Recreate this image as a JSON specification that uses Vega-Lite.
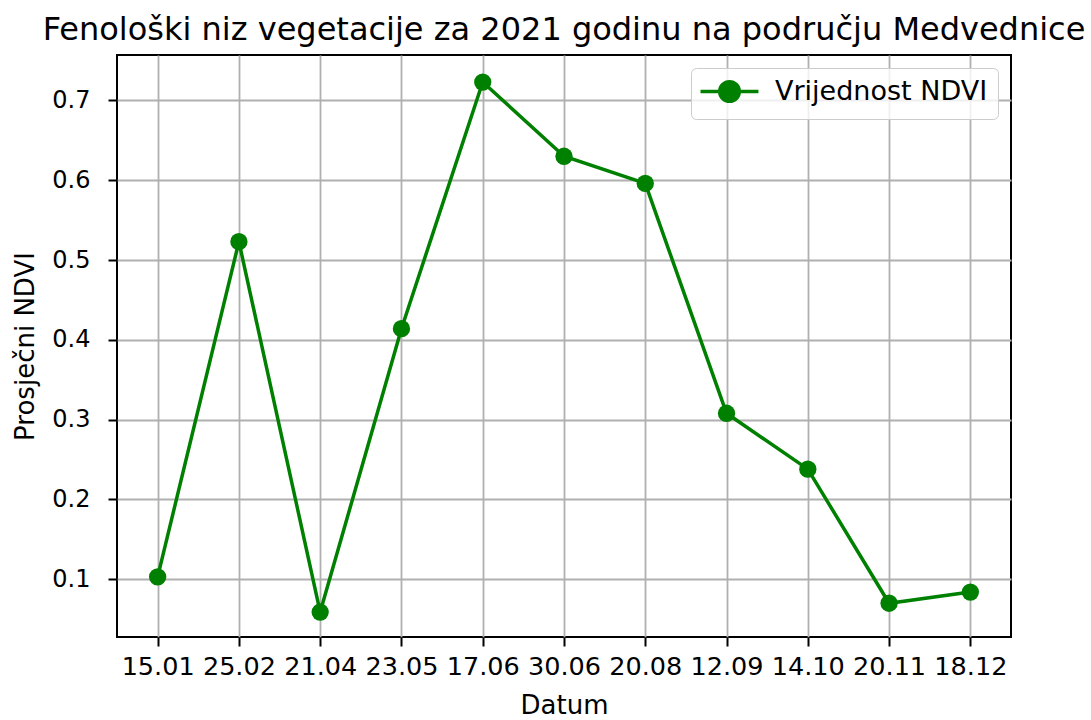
{
  "$schema": "https://vega.github.io/schema/vega-lite/v6.json",
  "width": 894,
  "height": 582,
  "autosize": {"type": "none"},
  "padding": {"left": 117, "top": 55, "right": 80, "bottom": 83},
  "background": "white",
  "title": {
    "text": "Fenološki niz vegetacije za 2021 godinu na području Medvednice",
    "fontSize": 32,
    "font": "DejaVu Sans",
    "fontWeight": "normal",
    "color": "#000000",
    "anchor": "middle",
    "baseline": "alphabetic",
    "offset": -17
  },
  "data": {
    "values": [
      {"datum": "15.01", "ndvi": 0.103},
      {"datum": "25.02", "ndvi": 0.523},
      {"datum": "21.04", "ndvi": 0.059},
      {"datum": "23.05", "ndvi": 0.414},
      {"datum": "17.06", "ndvi": 0.723},
      {"datum": "30.06", "ndvi": 0.630},
      {"datum": "20.08", "ndvi": 0.596},
      {"datum": "12.09", "ndvi": 0.308},
      {"datum": "14.10", "ndvi": 0.238},
      {"datum": "20.11", "ndvi": 0.070},
      {"datum": "18.12", "ndvi": 0.084}
    ]
  },
  "encoding": {
    "x": {
      "field": "datum",
      "type": "ordinal",
      "sort": null,
      "scale": {"type": "point", "padding": 0.5},
      "axis": {"title": "Datum", "labelAngle": 0, "labelFontSize": 25.5, "titlePadding": 13}
    },
    "y": {
      "field": "ndvi",
      "type": "quantitative",
      "scale": {"domain": [0.0277, 0.7569], "nice": false, "zero": false},
      "axis": {
        "title": "Prosječni NDVI",
        "values": [0.1, 0.2, 0.3, 0.4, 0.5, 0.6, 0.7],
        "format": ".1f",
        "labelPadding": 18,
        "titlePadding": 13
      }
    },
    "color": {
      "datum": "Vrijednost NDVI",
      "type": "nominal",
      "scale": {"range": ["#008000"]},
      "legend": {
        "title": null,
        "orient": "none",
        "legendX": 574,
        "legendY": 13,
        "padding": 10,
        "fillColor": "rgba(255,255,255,0.8)",
        "strokeColor": "#cccccc",
        "cornerRadius": 5,
        "symbolType": "M-4.14,0H4.14M-1.4,0A1.4,1.4,0,1,0,1.4,0A1.4,1.4,0,1,0,-1.4,0Z",
        "symbolSize": 196,
        "symbolStrokeWidth": 3.5,
        "symbolOffset": 15,
        "labelOffset": 32,
        "labelFont": "DejaVu Sans",
        "labelFontSize": 27,
        "labelColor": "#000000",
        "labelLimit": 400,
        "encode": {
          "symbols": {
            "update": {
              "fill": {"value": "#008000"},
              "stroke": {"value": "#008000"},
              "strokeWidth": {"value": 3.5},
              "opacity": {"value": 1}
            }
          }
        }
      }
    }
  },
  "layer": [
    {"mark": {"type": "line", "strokeWidth": 3.5}},
    {"mark": {"type": "point", "filled": true, "size": 300, "opacity": 1}}
  ],
  "config": {
    "font": "DejaVu Sans",
    "view": {"stroke": "#000000", "strokeWidth": 2},
    "axis": {
      "domain": false,
      "grid": true,
      "gridColor": "#b0b0b0",
      "gridWidth": 1.8,
      "tickColor": "#000000",
      "tickWidth": 2,
      "tickSize": 9,
      "labelFont": "DejaVu Sans",
      "labelFontSize": 24,
      "labelColor": "#000000",
      "labelPadding": 8,
      "titleFont": "DejaVu Sans",
      "titleFontSize": 26,
      "titleFontWeight": "normal",
      "titleColor": "#000000",
      "titlePadding": 8
    }
  }
}
